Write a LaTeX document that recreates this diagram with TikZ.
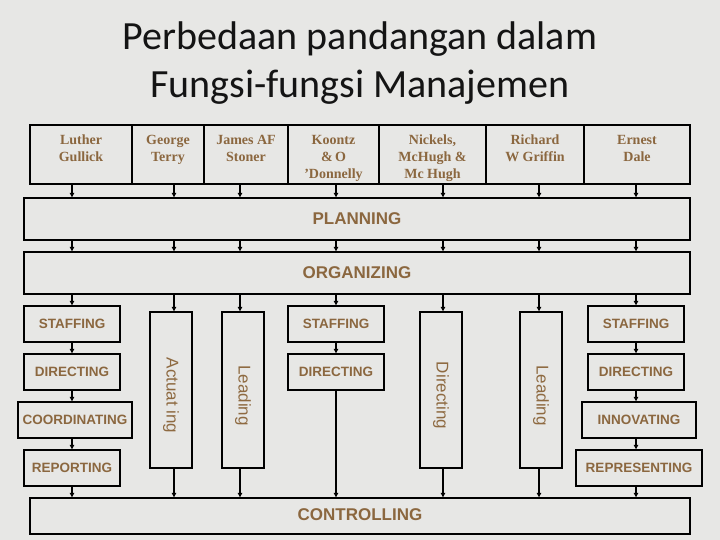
\documentclass[tikz,border=0pt]{standalone}
\usepackage{fontspec}
\setmainfont{Liberation Serif}
\newfontfamily\titlefont{Carlito}
\newfontfamily\arialfont{Liberation Sans}
\usetikzlibrary{arrows.meta}
\definecolor{bg}{RGB}{231,231,229}
\definecolor{txt}{RGB}{139,103,63}
\definecolor{vtxt}{RGB}{142,106,65}
\definecolor{ttl}{RGB}{20,20,20}
\newcommand{\toptop}{\rule{0pt}{20pt}}
\begin{document}
\begin{tikzpicture}[x=1pt,y=-1pt,
  frame/.style={draw=black,line width=1.4pt,inner sep=0pt},
  topbox/.style={frame,minimum height=57pt,align=center,text=txt,
    font=\bfseries\fontsize{14}{17}\selectfont},
  band/.style={frame,text=txt,font=\arialfont\bfseries\fontsize{17}{20}\selectfont},
  smallbox/.style={frame,minimum height=36pt,text=txt,
    font=\arialfont\bfseries\fontsize{13.5}{16}\selectfont},
  vertbox/.style={frame,rotate=-90,minimum width=156pt,minimum height=42pt,text=vtxt,
    font=\arialfont\fontsize{17}{20}\selectfont},
  flow/.style={line width=1.1pt,-{Triangle[length=4.5pt,width=4.5pt]}}
]
\fill[bg] (0,0) rectangle (720,540);
\useasboundingbox (0,0) rectangle (720,540);

% title
\node[text=ttl,font=\titlefont\fontsize{40}{48}\selectfont,align=center] (title) at (360,63)
  {Perbedaan pandangan dalam\\Fungsi-fungsi Manajemen};

% columns
\coordinate (c1) at (72,0);
\coordinate (c2) at (174,0);
\coordinate (c3) at (240,0);
\coordinate (c4) at (336,0);
\coordinate (c5) at (443,0);
\coordinate (c6) at (539,0);
\coordinate (c7) at (636,0);

% top row
\node[topbox,minimum width=102pt] (t1) at (81,154.5) {\toptop Luther\\Gullick\\\strut};
\node[topbox,minimum width=72pt] (t2) at (168,154.5) {\toptop George\\Terry\\\strut};
\node[topbox,minimum width=84pt] (t3) at (246,154.5) {\toptop James AF\\Stoner\\\strut};
\node[topbox,minimum width=91pt] (t4) at (333.5,154.5) {\toptop Koontz\\\&\,O\\’Donnelly\strut};
\node[topbox,minimum width=107pt] (t5) at (432.5,154.5) {\toptop Nickels,\\McHugh \&\\Mc Hugh\strut};
\node[topbox,minimum width=98pt] (t6) at (535,154.5) {\toptop Richard\\W Griffin\\\strut};
\node[topbox,minimum width=106pt] (t7) at (637,154.5) {\toptop Ernest\\Dale\\\strut};

% bands
\node[band,minimum width=666pt,minimum height=42pt] (plan) at (357,219) {PLANNING};
\node[band,minimum width=666pt,minimum height=42pt] (org) at (357,273) {ORGANIZING};
\node[band,minimum width=660pt,minimum height=36pt] (ctrl) at (360,516) {\raisebox{2pt}{CONTROLLING}};

% left column
\node[smallbox,minimum width=96pt] (s1) at (72,324) {STAFFING};
\node[smallbox,minimum width=96pt] (d1) at (72,372) {DIRECTING};
\node[smallbox,minimum width=114pt] (co1) at (75,420) {COORDINATING};
\node[smallbox,minimum width=96pt] (r1) at (72,468) {REPORTING};

% vertical boxes
\node[vertbox] (act) at (171,390) {\hspace*{11pt}Actuat ing};
\node[vertbox] (lead1) at (243,390) {\hspace*{11pt}Leading};
\node[vertbox] (dir) at (441,390) {\hspace*{11pt}Directing};
\node[vertbox] (lead2) at (541,390) {\hspace*{11pt}Leading};

% middle column
\node[smallbox,minimum width=96pt] (s2) at (336,324) {STAFFING};
\node[smallbox,minimum width=96pt] (d2) at (336,372) {DIRECTING};

% right column
\node[smallbox,minimum width=96pt] (s3) at (636,324) {STAFFING};
\node[smallbox,minimum width=96pt] (d3) at (636,372) {DIRECTING};
\node[smallbox,minimum width=114pt] (in3) at (639,420) {INNOVATING};
\node[smallbox,minimum width=126pt] (rep3) at (639,468) {REPRESENTING};

% top row to planning
\foreach \t/\c in {t1/c1,t2/c2,t3/c3,t4/c4,t5/c5,t6/c6,t7/c7}
  \draw[flow] (\t.south -| \c) -- (plan.north -| \c);
% planning to organizing
\foreach \c in {c1,c2,c3,c4,c5,c6,c7}
  \draw[flow] (plan.south -| \c) -- (org.north -| \c);
% organizing to lower boxes
\draw[flow] (org.south -| c1) -- (s1.north -| c1);
\draw[flow] (org.south -| c2) -- (c2 |- act.west);
\draw[flow] (org.south -| c3) -- (c3 |- lead1.west);
\draw[flow] (org.south -| c4) -- (s2.north -| c4);
\draw[flow] (org.south -| c5) -- (c5 |- dir.west);
\draw[flow] (org.south -| c6) -- (c6 |- lead2.west);
\draw[flow] (org.south -| c7) -- (s3.north -| c7);
% left chain
\draw[flow] (s1.south -| c1) -- (d1.north -| c1);
\draw[flow] (d1.south -| c1) -- (co1.north -| c1);
\draw[flow] (co1.south -| c1) -- (r1.north -| c1);
\draw[flow] (r1.south -| c1) -- (ctrl.north -| c1);
% verticals to controlling
\draw[flow] (c2 |- act.east) -- (ctrl.north -| c2);
\draw[flow] (c3 |- lead1.east) -- (ctrl.north -| c3);
\draw[flow] (c5 |- dir.east) -- (ctrl.north -| c5);
\draw[flow] (c6 |- lead2.east) -- (ctrl.north -| c6);
% middle chain
\draw[flow] (s2.south -| c4) -- (d2.north -| c4);
\draw[flow] (d2.south -| c4) -- (ctrl.north -| c4);
% right chain
\draw[flow] (s3.south -| c7) -- (d3.north -| c7);
\draw[flow] (d3.south -| c7) -- (in3.north -| c7);
\draw[flow] (in3.south -| c7) -- (rep3.north -| c7);
\draw[flow] (rep3.south -| c7) -- (ctrl.north -| c7);
\end{tikzpicture}
\end{document}
